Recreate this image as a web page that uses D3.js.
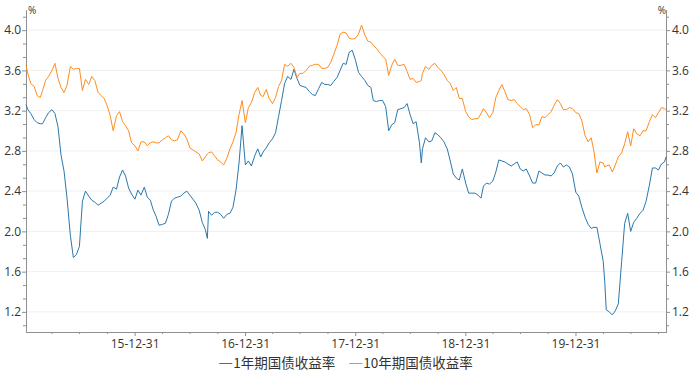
<!DOCTYPE html>
<html><head><meta charset="utf-8">
<script src="https://cdn.jsdelivr.net/npm/d3@7"></script>
<style>body{margin:0;background:#fff}svg{display:block}</style>
</head><body><svg id="c" width="693" height="377"></svg>
<script>
const dates = [
"2015-01-05","2015-01-11","2015-01-21","2015-02-01","2015-02-11","2015-02-21","2015-03-01","2015-03-11","2015-03-21","2015-04-01","2015-04-11","2015-04-21","2015-05-01","2015-05-11","2015-05-21","2015-06-01","2015-06-11","2015-06-21","2015-07-01","2015-07-11","2015-07-21","2015-08-01","2015-08-11","2015-08-21","2015-09-01","2015-09-11","2015-09-21","2015-10-01","2015-10-11","2015-10-21","2015-11-01","2015-11-11","2015-11-21","2015-12-01","2015-12-11","2015-12-21",
"2016-01-01","2016-01-11","2016-01-21","2016-02-01","2016-02-11","2016-02-21","2016-03-01","2016-03-11","2016-03-21","2016-04-01","2016-04-11","2016-04-21","2016-05-01","2016-05-11","2016-05-21","2016-06-01","2016-06-11","2016-06-21","2016-07-01","2016-07-11","2016-07-21","2016-08-01","2016-08-11","2016-08-21","2016-08-28","2016-09-01","2016-09-11","2016-09-21","2016-10-01","2016-10-11","2016-10-21","2016-11-01","2016-11-11","2016-11-21","2016-12-01","2016-12-11","2016-12-21",
"2017-01-01","2017-01-11","2017-01-21","2017-02-01","2017-02-11","2017-02-21","2017-03-01","2017-03-11","2017-03-21","2017-04-01","2017-04-11","2017-04-21","2017-05-01","2017-05-11","2017-05-21","2017-06-01","2017-06-11","2017-06-21","2017-07-01","2017-07-11","2017-07-21","2017-08-01","2017-08-11","2017-08-21","2017-09-01","2017-09-11","2017-09-21","2017-10-01","2017-10-11","2017-10-21","2017-11-01","2017-11-11","2017-11-21","2017-12-01","2017-12-11","2017-12-21",
"2018-01-01","2018-01-11","2018-01-21","2018-02-01","2018-02-11","2018-02-21","2018-03-01","2018-03-11","2018-03-21","2018-04-01","2018-04-11","2018-04-21","2018-05-01","2018-05-11","2018-05-21","2018-06-01","2018-06-11","2018-06-21","2018-07-01","2018-07-11","2018-07-21","2018-08-01","2018-08-07","2018-08-11","2018-08-21","2018-09-01","2018-09-11","2018-09-21","2018-10-01","2018-10-11","2018-10-21","2018-11-01","2018-11-11","2018-11-21","2018-12-01","2018-12-11","2018-12-21",
"2019-01-01","2019-01-11","2019-01-21","2019-02-01","2019-02-11","2019-02-21","2019-03-01","2019-03-11","2019-03-21","2019-04-01","2019-04-11","2019-04-21","2019-05-01","2019-05-11","2019-05-21","2019-06-01","2019-06-11","2019-06-21","2019-07-01","2019-07-11","2019-07-21","2019-08-01","2019-08-11","2019-08-21","2019-09-01","2019-09-11","2019-09-21","2019-10-01","2019-10-11","2019-10-21","2019-11-01","2019-11-11","2019-11-21","2019-12-01","2019-12-11","2019-12-21",
"2020-01-01","2020-01-11","2020-01-21","2020-02-01","2020-02-11","2020-02-21","2020-03-01","2020-03-11","2020-03-21","2020-04-01","2020-04-06","2020-04-11","2020-04-21","2020-05-01","2020-05-11","2020-05-21","2020-06-01","2020-06-11","2020-06-21","2020-07-01","2020-07-11","2020-07-21","2020-08-01","2020-08-11","2020-08-21","2020-09-01","2020-09-11","2020-09-21","2020-10-01","2020-10-11","2020-10-21","2020-10-26"
];
// 1-year government bond yield (%)
const y1 = [
3.26,3.21,3.17,3.11,3.08,3.07,3.07,3.13,3.18,3.21,3.17,3.04,2.76,2.60,2.33,1.96,1.74,1.77,1.85,2.30,2.40,2.35,2.31,2.29,2.26,2.28,2.30,2.33,2.36,2.44,2.42,2.54,2.61,2.55,2.43,2.37,
2.32,2.41,2.36,2.44,2.34,2.31,2.22,2.15,2.06,2.07,2.08,2.17,2.30,2.33,2.34,2.35,2.38,2.40,2.36,2.32,2.28,2.21,2.09,2.02,1.93,2.20,2.16,2.19,2.19,2.17,2.13,2.17,2.18,2.24,2.41,2.68,3.05,
2.66,2.70,2.65,2.75,2.82,2.74,2.79,2.83,2.88,2.92,2.98,3.14,3.30,3.47,3.54,3.51,3.61,3.52,3.45,3.44,3.43,3.39,3.36,3.35,3.42,3.48,3.46,3.46,3.45,3.49,3.53,3.60,3.67,3.66,3.78,3.80,
3.70,3.58,3.54,3.50,3.45,3.43,3.30,3.29,3.30,3.30,3.24,3.00,3.06,3.08,3.21,3.22,3.23,3.27,3.16,3.07,3.09,2.88,2.68,2.82,2.93,2.89,2.90,2.98,2.96,2.93,2.89,2.82,2.70,2.57,2.53,2.51,2.62,
2.48,2.38,2.38,2.38,2.36,2.33,2.45,2.48,2.47,2.50,2.59,2.71,2.70,2.69,2.67,2.65,2.67,2.69,2.62,2.60,2.62,2.55,2.48,2.48,2.60,2.58,2.56,2.56,2.55,2.58,2.65,2.68,2.64,2.66,2.64,2.57,
2.39,2.35,2.24,2.14,2.07,2.03,2.04,2.04,1.88,1.70,1.50,1.22,1.20,1.17,1.21,1.28,1.70,2.08,2.18,2.00,2.09,2.13,2.18,2.21,2.30,2.46,2.63,2.63,2.61,2.67,2.69,2.74
];
// 10-year government bond yield (%)
const y10 = [
3.65,3.57,3.47,3.44,3.35,3.33,3.40,3.50,3.54,3.60,3.67,3.52,3.43,3.38,3.45,3.64,3.61,3.62,3.62,3.40,3.51,3.46,3.54,3.50,3.38,3.35,3.32,3.25,3.15,3.00,3.15,3.19,3.09,3.05,3.00,2.88,
2.85,2.80,2.89,2.89,2.85,2.88,2.89,2.88,2.88,2.91,2.93,2.95,2.91,2.90,2.91,3.00,2.97,2.92,2.83,2.81,2.79,2.77,2.70,2.74,2.77,2.78,2.79,2.75,2.71,2.69,2.66,2.73,2.82,2.89,2.98,3.16,3.30,
3.08,3.23,3.28,3.38,3.43,3.35,3.34,3.41,3.32,3.27,3.33,3.44,3.50,3.66,3.64,3.67,3.63,3.53,3.57,3.57,3.60,3.64,3.65,3.66,3.66,3.62,3.62,3.63,3.68,3.76,3.85,3.96,3.98,3.97,3.92,3.91,
3.92,3.96,4.05,3.95,3.89,3.88,3.85,3.82,3.78,3.74,3.71,3.55,3.65,3.71,3.65,3.65,3.66,3.59,3.51,3.52,3.48,3.49,3.50,3.57,3.64,3.61,3.65,3.67,3.63,3.60,3.56,3.50,3.47,3.40,3.43,3.32,3.32,
3.19,3.14,3.11,3.12,3.12,3.17,3.22,3.18,3.13,3.18,3.33,3.40,3.46,3.39,3.31,3.30,3.31,3.27,3.24,3.21,3.22,3.16,3.03,3.06,3.06,3.14,3.13,3.16,3.19,3.25,3.31,3.27,3.21,3.21,3.23,3.22,
3.18,3.17,3.10,2.95,2.89,2.93,2.80,2.58,2.69,2.68,2.64,2.65,2.66,2.59,2.66,2.74,2.78,2.87,2.99,2.85,3.02,2.97,2.95,3.00,3.00,3.09,3.16,3.13,3.18,3.23,3.22,3.21
];
const seriesNames = ["1年期国债收益率", "10年期国债收益率"];
const seriesColors = ["#2a78ab", "#ff8c1e"];
const yTicks = [1.2, 1.6, 2.0, 2.4, 2.8, 3.2, 3.6, 4.0];
const xTickLabels = ["15-12-31", "16-12-31", "17-12-31", "18-12-31", "19-12-31"];
const yDomain = [1.0, 4.2];
const unitLabel = "%";

const svg = d3.select("#c");
svg.append("rect").attr("width", 693).attr("height", 377).attr("fill", "#fff");
const L = 26, R = 666, T = 10, B = 332;
const parse = d3.timeParse("%Y-%m-%d");
const D = dates.map(parse);
const x = d3.scaleTime().domain(d3.extent(D)).range([L, R]);
const y = d3.scaleLinear().domain(yDomain).range([B, T]);
const font = "'Open Sans', 'Noto Sans', sans-serif";

// gridlines
svg.append("g").selectAll("line").data(yTicks).join("line")
  .attr("x1", L).attr("x2", R).attr("y1", d => y(d)).attr("y2", d => y(d))
  .attr("stroke", "#efefef").attr("stroke-width", 1);

// minor y ticks (thirds of major step)
const step = yTicks[1] - yTicks[0];
const yMinor = [];
for (let v = yTicks[0] - step; v <= yDomain[1] + 1e-9; v += step / 3) {
  if (v >= yDomain[0] - 1e-9 && !yTicks.some(t => Math.abs(t - v) < 1e-6)) yMinor.push(v);
}
// x ticks
const xMajor = xTickLabels.map(d3.timeParse("%y-%m-%d"));
const xMinor = d3.timeMonth.range(d3.timeMonth.offset(x.domain()[0], 1), x.domain()[1])
  .filter(d => d.getMonth() % 3 === 0).map(d => d3.timeDay.offset(d, -1))
  .filter(d => !xMajor.some(m => +m === +d) && d >= x.domain()[0]);

function style(g) {
  g.select(".domain").attr("stroke", "#8f8f8f");
  g.selectAll(".tick line").attr("stroke", "#8f8f8f");
  g.selectAll(".tick text").attr("fill", "#333").style("font-family", font).style("font-size", "12px");
}
const fmt = d3.format(".1f");
svg.append("g").attr("transform", `translate(${L},0)`)
  .call(d3.axisLeft(y).tickValues(yMinor).tickFormat("").tickSize(3).tickSizeOuter(0)).call(style);
svg.append("g").attr("transform", `translate(${L},0)`)
  .call(d3.axisLeft(y).tickValues(yTicks).tickFormat(fmt).tickSize(4).tickPadding(1).tickSizeOuter(0)).call(style);
svg.append("g").attr("transform", `translate(${R},0)`)
  .call(d3.axisRight(y).tickValues(yMinor).tickFormat("").tickSize(3).tickSizeOuter(0)).call(style);
svg.append("g").attr("transform", `translate(${R},0)`)
  .call(d3.axisRight(y).tickValues(yTicks).tickFormat(fmt).tickSize(4).tickPadding(2).tickSizeOuter(0)).call(style);
svg.append("g").attr("transform", `translate(0,${B})`)
  .call(d3.axisBottom(x).tickValues(xMinor).tickFormat("").tickSize(2).tickSizeOuter(0)).call(style);
svg.append("g").attr("transform", `translate(0,${B})`)
  .call(d3.axisBottom(x).tickValues(xMajor).tickFormat(d3.timeFormat("%y-%m-%d")).tickSize(4).tickPadding(3).tickSizeOuter(0)).call(style);

// unit labels
svg.append("text").attr("x", L + 2).attr("y", 14).text(unitLabel)
  .attr("fill", "#333").style("font-family", font).style("font-size", "10px");
svg.append("text").attr("x", R).attr("y", 14).attr("text-anchor", "end").text(unitLabel)
  .attr("fill", "#333").style("font-family", font).style("font-size", "10px");

// lines
const series = [y1, y10];
series.forEach((vals, i) => {
  const pts = D.map((d, k) => [d, vals[k]]);
  svg.append("path").datum(pts)
    .attr("fill", "none").attr("stroke", seriesColors[i]).attr("stroke-width", 1)
    .attr("stroke-linejoin", "round")
    .attr("d", d3.line().x(p => x(p[0])).y(p => y(p[1])));
});

// legend
const lg = svg.append("g");
const items = seriesNames.map((name, i) => {
  const g = lg.append("g");
  g.append("line").attr("x1", 0).attr("x2", 13).attr("y1", 0).attr("y2", 0)
    .attr("stroke", seriesColors[i]).attr("stroke-width", 1);
  const t = g.append("text").attr("x", 14).attr("y", 4.5).text(name)
    .attr("fill", "#333").style("font-family", "'Noto Sans CJK SC', sans-serif").style("font-size", "13.5px");
  return { g, w: 14 + t.node().getComputedTextLength() };
});
const gap = 14;
const total = d3.sum(items, d => d.w) + gap * (items.length - 1);
let cx = (L + R) / 2 - total / 2;
items.forEach(it => { it.g.attr("transform", `translate(${cx},363.5)`); cx += it.w + gap; });
</script>
</body></html>
